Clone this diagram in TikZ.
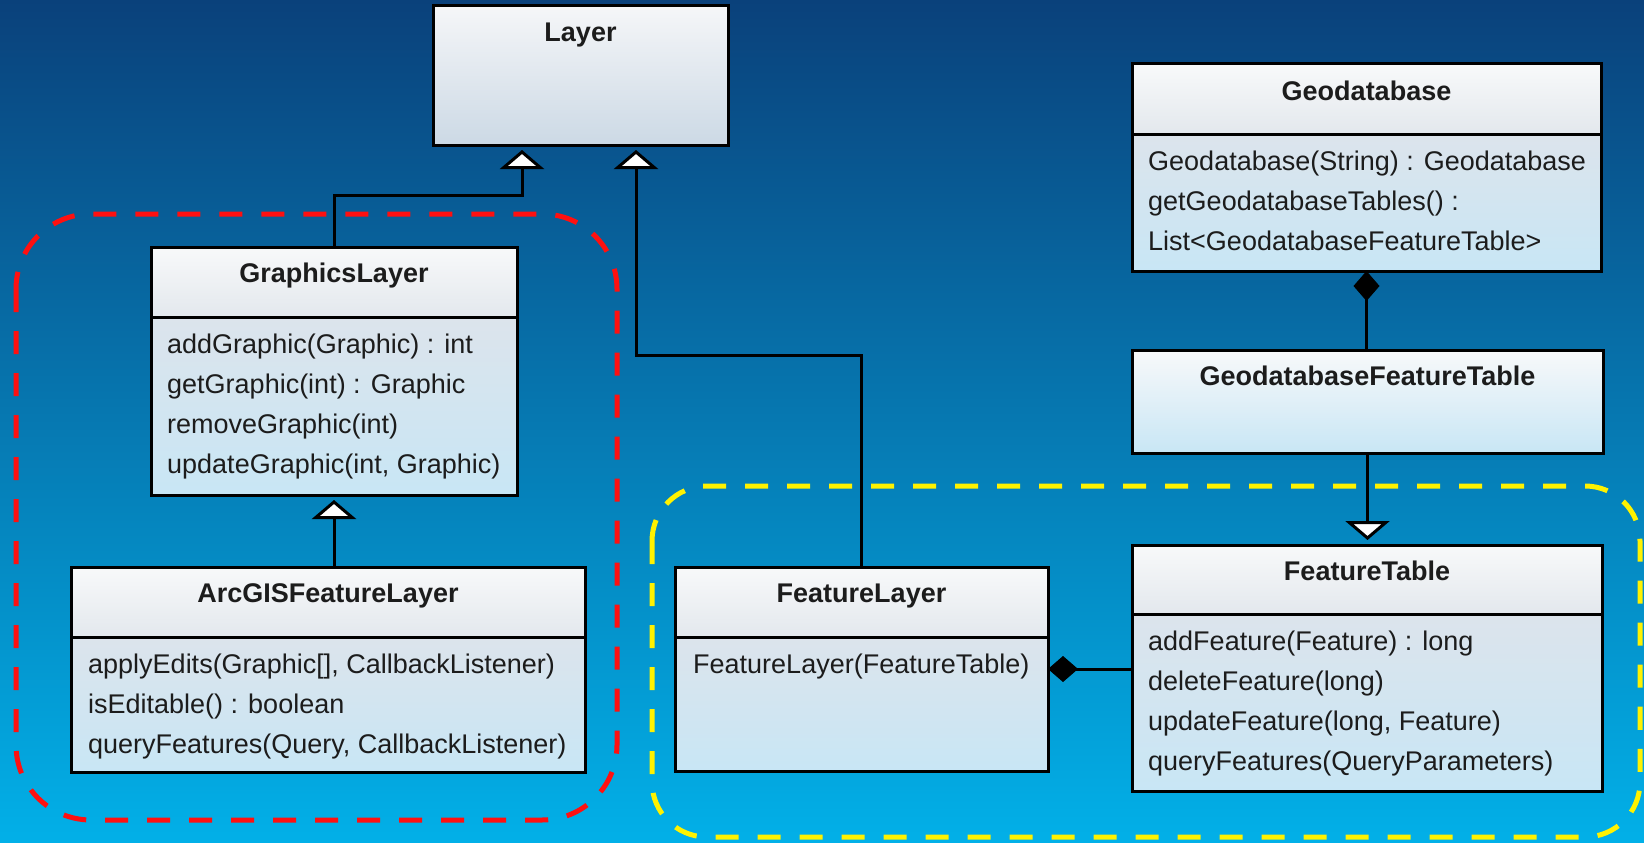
\documentclass[tikz,border=0pt]{standalone}
\usepackage{fontspec}
\setmainfont{Liberation Sans}
\usetikzlibrary{arrows.meta}
\definecolor{bgtop}{HTML}{0A417B}
\definecolor{bgmid}{HTML}{0570B8}
\definecolor{bgbot}{HTML}{02B0E8}
\definecolor{hdA}{HTML}{F8F9FA}
\definecolor{hdB}{HTML}{E3E8ED}
\definecolor{bdA}{HTML}{DCE4EC}
\definecolor{bdB}{HTML}{C8E6F5}
\definecolor{lyA}{HTML}{F5F6F8}
\definecolor{lyB}{HTML}{CCD9E5}
\definecolor{txt}{HTML}{1C1C1C}
\definecolor{redd}{HTML}{FF1010}
\definecolor{yell}{HTML}{FFF200}
\begin{document}
\begin{tikzpicture}[x=1pt,y=-1pt,
  classbox/.style={draw=black, line width=3pt, inner sep=0pt, outer sep=0pt, anchor=north west},
  divider/.style={draw=black, line width=3pt},
  ttl/.style={anchor=base, inner sep=0pt, text=txt, font=\bfseries\fontsize{27}{32}\selectfont},
  mth/.style={anchor=base west, inner sep=0pt, text=txt, font=\fontsize{27}{32}\selectfont},
  conn/.style={draw=black, line width=3pt},
  gen/.style={conn, shorten >=5pt, -{Triangle[length=19pt,width=44pt,fill=white,line width=3pt]}},
  comp/.style={conn, {Diamond[length=30pt,width=26pt,line width=1pt]}-},
  groupbox/.style={line width=5pt, dash pattern=on 23pt off 19pt}
]
\useasboundingbox (0,0) rectangle (1644,843);
\shade[top color=bgtop, middle color=bgmid, bottom color=bgbot] (0,0) rectangle (1644,843);

% group frames
\draw[groupbox, draw=redd, rounded corners=75pt] (16,214) rectangle (617,820);
\draw[groupbox, draw=yell, rounded corners=55pt] (652,486) rectangle (1640,837);

% Layer
\shade[top color=lyA, bottom color=lyB] (433,6) rectangle (728,145);
\node[classbox, minimum width=295pt, minimum height=139pt] (layer) at (433,6) {};
\node[ttl] (layer-t) at (580.5,42) {Layer};

% GraphicsLayer
\shade[top color=hdA, bottom color=hdB] (151,247) rectangle (517,317);
\shade[top color=bdA, bottom color=bdB] (151,317) rectangle (517,495);
\draw[divider] (151,317) -- (517,317);
\node[classbox, minimum width=366pt, minimum height=248pt] (gl) at (151,247) {};
\node[ttl] (gl-t) at (334,282) {GraphicsLayer};
\node[mth] (gl-m1) at (167,353) {addGraphic(Graphic) : int};
\node[mth] (gl-m2) at (167,393) {getGraphic(int) : Graphic};
\node[mth] (gl-m3) at (167,433) {removeGraphic(int)};
\node[mth] (gl-m4) at (167,473) {updateGraphic(int, Graphic)};

% ArcGISFeatureLayer
\shade[top color=hdA, bottom color=hdB] (71,567) rectangle (585,637);
\shade[top color=bdA, bottom color=bdB] (71,637) rectangle (585,772);
\draw[divider] (71,637) -- (585,637);
\node[classbox, minimum width=514pt, minimum height=205pt] (afl) at (71,567) {};
\node[ttl] (afl-t) at (328,602) {ArcGISFeatureLayer};
\node[mth] (afl-m1) at (88,673) {applyEdits(Graphic[], CallbackListener)};
\node[mth] (afl-m2) at (88,713) {isEditable() : boolean};
\node[mth] (afl-m3) at (88,753) {queryFeatures(Query, CallbackListener)};

% FeatureLayer
\shade[top color=hdA, bottom color=hdB] (675,567) rectangle (1048,637);
\shade[top color=bdA, bottom color=bdB] (675,637) rectangle (1048,771);
\draw[divider] (675,637) -- (1048,637);
\node[classbox, minimum width=373pt, minimum height=204pt] (fl) at (675,567) {};
\node[ttl] (fl-t) at (861.5,602) {FeatureLayer};
\node[mth] (fl-m1) at (693,673) {FeatureLayer(FeatureTable)};

% Geodatabase
\shade[top color=hdA, bottom color=hdB] (1132,64) rectangle (1601,134);
\shade[top color=bdA, bottom color=bdB] (1132,134) rectangle (1601,271);
\draw[divider] (1132,134) -- (1601,134);
\node[classbox, minimum width=469pt, minimum height=207pt] (gdb) at (1132,64) {};
\node[ttl] (gdb-t) at (1366.5,100) {Geodatabase};
\node[mth] (gdb-m1) at (1148,170) {Geodatabase(String) : Geodatabase};
\node[mth] (gdb-m2) at (1148,210) {getGeodatabaseTables() :};
\node[mth] (gdb-m3) at (1148,250) {List<GeodatabaseFeatureTable>};

% GeodatabaseFeatureTable
\shade[top color=hdA, bottom color=bdB] (1132,350) rectangle (1603,453);
\node[classbox, minimum width=471pt, minimum height=103pt] (gft) at (1132,350) {};
\node[ttl] (gft-t) at (1367.5,385) {GeodatabaseFeatureTable};

% FeatureTable
\shade[top color=hdA, bottom color=hdB] (1132,545) rectangle (1602,614);
\shade[top color=bdA, bottom color=bdB] (1132,614) rectangle (1602,791);
\draw[divider] (1132,614) -- (1602,614);
\node[classbox, minimum width=470pt, minimum height=246pt] (ft) at (1132,545) {};
\node[ttl] (ft-t) at (1367,580) {FeatureTable};
\node[mth] (ft-m1) at (1148,650) {addFeature(Feature) : long};
\node[mth] (ft-m2) at (1148,690) {deleteFeature(long)};
\node[mth] (ft-m3) at (1148,730) {updateFeature(long, Feature)};
\node[mth] (ft-m4) at (1148,770) {queryFeatures(QueryParameters)};

% connectors
\coordinate (j1) at (522,195);
\coordinate (j2) at (636,355);
\draw[gen] (gl.north) |- (j1) -- (j1 |- layer.south);
\draw[gen] (fl.north) |- (j2) -- (j2 |- layer.south);
\draw[gen] (afl.north -| gl.south) -- (gl.south);
\draw[gen] (gft.south) -- (gft.south |- ft.north);
\draw[comp] (gdb.south) -- (gdb.south |- gft.north);
\draw[comp] (fl.east) -- (fl.east -| ft.west);
\end{tikzpicture}
\end{document}
